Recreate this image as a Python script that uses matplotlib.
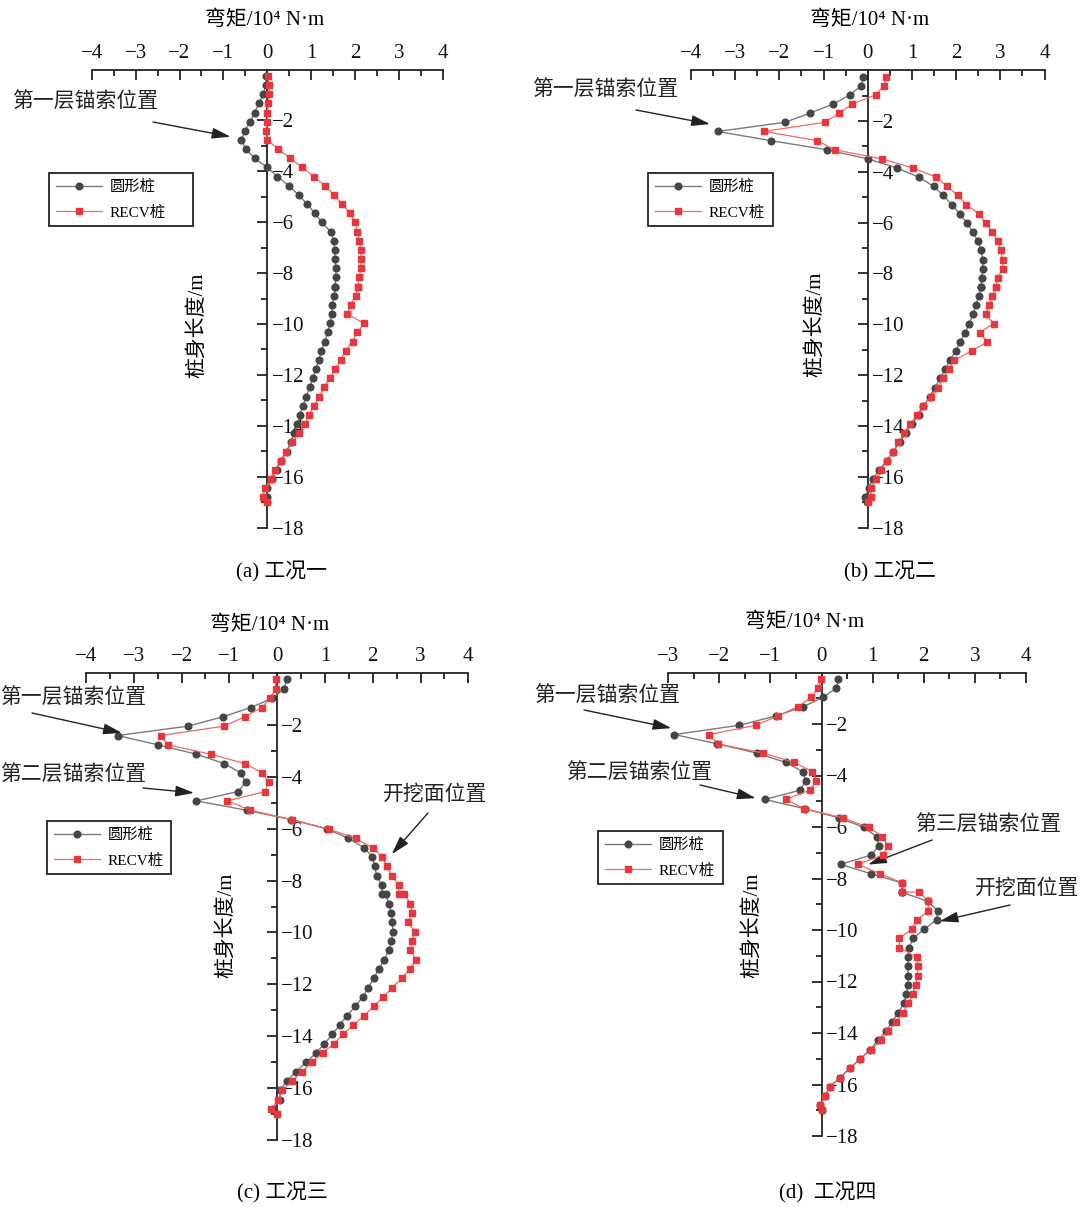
import matplotlib
matplotlib.use('Agg')
from matplotlib import pyplot as plt
from matplotlib.ticker import MultipleLocator, FixedLocator

plt.rcParams['font.family'] = ['Liberation Serif', 'Noto Sans CJK SC']
plt.rcParams['axes.unicode_minus'] = True

W, H = 1086, 1207

# pile depth of each node (m), the node at -8.53 appears twice
depth = [-0.25, -0.61, -0.97, -1.33, -1.69, -2.05, -2.41, -2.77, -3.13, -3.49,
         -3.85, -4.21, -4.57, -4.93, -5.29, -5.65, -6.01, -6.37, -6.73, -7.09,
         -7.45, -7.81, -8.17, -8.53, -8.53, -8.89, -9.25, -9.61, -9.97, -10.33,
         -10.69, -11.05, -11.41, -11.77, -12.13, -12.49, -12.85, -13.21, -13.57, -13.93,
         -14.29, -14.65, -15.01, -15.37, -15.73, -16.09, -16.45, -16.81, -17.0]

# bending moment, 10^4 N.m
a_round = [-0.02, -0.04, -0.09, -0.19, -0.29, -0.39, -0.51, -0.59, -0.49, -0.29,
           0.0, 0.23, 0.49, 0.71, 0.91, 1.08, 1.24, 1.44, 1.52, 1.53,
           1.54, 1.56, 1.56, 1.54, 1.54, 1.52, 1.48, 1.47, 1.43, 1.37,
           1.31, 1.23, 1.18, 1.10, 1.04, 0.96, 0.89, 0.81, 0.74, 0.68,
           0.61, 0.53, 0.44, 0.32, 0.21, 0.11, 0.0, -0.01, 0.0]
a_recv = [0.02, 0.04, 0.04, 0.02, 0.0, 0.0, -0.02, 0.0, 0.25, 0.52,
          0.80, 1.06, 1.31, 1.52, 1.71, 1.88, 1.99, 2.05, 2.09, 2.13,
          2.13, 2.13, 2.09, 2.07, 2.07, 2.01, 1.90, 1.82, 2.20, 2.05,
          1.94, 1.78, 1.67, 1.54, 1.42, 1.29, 1.18, 1.06, 0.95, 0.86,
          0.72, 0.57, 0.43, 0.30, 0.18, 0.08, -0.05, -0.11, 0.0]

b_round = [-0.10, -0.15, -0.40, -0.78, -1.31, -1.87, -3.40, -2.20, -0.93, 0.0,
           0.66, 1.16, 1.49, 1.71, 1.90, 2.08, 2.24, 2.38, 2.49, 2.57,
           2.60, 2.60, 2.58, 2.57, 2.57, 2.51, 2.45, 2.38, 2.30, 2.20,
           2.09, 1.99, 1.86, 1.75, 1.64, 1.52, 1.40, 1.26, 1.15, 1.00,
           0.86, 0.72, 0.57, 0.43, 0.26, 0.11, 0.02, -0.06, -0.02]
b_recv = [0.42, 0.37, 0.18, -0.35, -0.64, -0.97, -2.35, -1.14, -0.75, 0.32,
          1.03, 1.55, 1.80, 2.04, 2.23, 2.51, 2.67, 2.82, 2.94, 3.01,
          3.05, 3.06, 2.94, 2.90, 2.90, 2.82, 2.75, 2.67, 2.85, 2.53,
          2.71, 2.35, 1.96, 1.83, 1.71, 1.58, 1.43, 1.25, 1.11, 0.96,
          0.82, 0.69, 0.57, 0.43, 0.30, 0.18, 0.08, 0.07, 0.0]

c_round = [0.20, 0.14, -0.10, -0.55, -1.14, -1.87, -3.34, -2.49, -1.69, -1.11,
           -0.76, -0.66, -0.82, -1.69, -0.64, 0.29, 1.04, 1.49, 1.82, 1.99,
           2.04, 2.08, 2.19, 2.19, 2.27, 2.34, 2.39, 2.41, 2.42, 2.39,
           2.34, 2.24, 2.13, 2.02, 1.91, 1.79, 1.63, 1.46, 1.31, 1.15,
           0.99, 0.81, 0.61, 0.39, 0.20, 0.06, 0.06, -0.09, 0.0]
c_recv = [-0.03, -0.03, -0.14, -0.32, -0.68, -1.11, -2.44, -2.28, -1.39, -0.68,
          -0.31, -0.18, -0.25, -1.04, -0.56, 0.31, 1.08, 1.64, 2.00, 2.20,
          2.29, 2.40, 2.54, 2.54, 2.66, 2.79, 2.82, 2.74, 2.88, 2.82,
          2.79, 2.91, 2.77, 2.61, 2.41, 2.22, 2.02, 1.82, 1.59, 1.38,
          1.19, 0.95, 0.72, 0.52, 0.31, 0.11, 0.02, -0.12, 0.0]

d_round = [0.33, 0.29, 0.02, -0.36, -0.90, -1.61, -2.88, -2.04, -1.27, -0.70,
           -0.37, -0.31, -0.42, -1.11, -0.33, 0.35, 0.82, 1.08, 1.12, 0.97,
           0.37, 0.96, 1.57, 1.57, 1.57, 2.08, 2.27, 2.25, 2.01, 1.79,
           1.71, 1.69, 1.69, 1.69, 1.69, 1.66, 1.61, 1.50, 1.38, 1.26,
           1.10, 0.95, 0.75, 0.55, 0.36, 0.16, 0.07, -0.03, 0.0]
d_recv = [-0.01, -0.07, -0.20, -0.47, -0.86, -1.29, -2.20, -2.03, -1.14, -0.54,
          -0.18, -0.10, -0.23, -0.70, -0.34, 0.42, 0.92, 1.19, 1.29, 1.20,
          0.71, 1.14, 1.58, 1.58, 1.91, 2.09, 2.09, 1.86, 1.76, 1.52,
          1.52, 1.86, 1.88, 1.88, 1.84, 1.78, 1.70, 1.59, 1.46, 1.29,
          1.16, 0.97, 0.76, 0.56, 0.36, 0.16, 0.07, -0.03, 0.0]

series_names = ['圆形桩', 'RECV桩']
captions = ['(a) 工况一', '(b) 工况二', '(c) 工况三', '(d)  工况四']
xlabel = '弯矩/10⁴ N·m'
ylabel = '桩身长度/m'

INK = '#222222'


def fxy(x, y):
    # pixel position (from top-left) -> figure fraction
    return x / W, 1 - y / H


def make_panel(fig, left, right, top, bottom, xmin, xmax):
    ax = fig.add_axes([left / W, 1 - bottom / H, (right - left) / W, (bottom - top) / H])
    ax.patch.set_alpha(0)
    ax.set_xlim(xmin, xmax)
    ax.set_ylim(-18, 0)
    ax.spines['left'].set_visible(False)
    ax.spines['bottom'].set_visible(False)
    ax.spines['right'].set_position(('data', 0))
    for s in ['top', 'right']:
        ax.spines[s].set_linewidth(1.3)
        ax.spines[s].set_color(INK)
    ax.xaxis.tick_top()
    ax.yaxis.tick_right()
    ax.set_xticks(range(xmin, xmax + 1))
    ax.xaxis.set_minor_locator(MultipleLocator(0.5))
    ax.set_yticks(range(-18, -1, 2))
    ax.yaxis.set_minor_locator(FixedLocator(range(-17, 0, 2)))
    ax.tick_params(which='both', direction='in', width=1.3, color=INK,
                   labelsize=15, labelcolor='#111111')
    ax.tick_params(which='major', length=7)
    ax.tick_params(which='minor', length=4)
    ax.tick_params(axis='x', pad=5)
    ax.tick_params(axis='y', pad=3)
    return ax


def draw_series(ax, rnd, recv):
    ax.plot(rnd, depth, '-', color='#7a7a7a', lw=1.0, marker='o', ms=4.8,
            mfc='#454545', mec='#454545', label=series_names[0], zorder=3, clip_on=False)
    ax.plot(recv, depth, '-', color='#f06868', lw=0.9, marker='s', ms=4.4,
            mfc='#e8363c', mec='#e8363c', label=series_names[1], zorder=4, clip_on=False)


def add_legend(fig, ax, left, right, top):
    x0, y0 = fxy(left, top)
    leg = ax.legend(loc='upper left', bbox_to_anchor=(x0, y0, (right - left) / W, 0),
                    bbox_transform=fig.transFigure, mode='expand', frameon=True,
                    fancybox=False, edgecolor=INK, framealpha=1, fontsize=11,
                    handlelength=3.0, handletextpad=0.5, borderpad=0.45,
                    labelspacing=0.75, borderaxespad=0)
    leg.get_frame().set_linewidth(1.3)


def pointer(fig, ax, text, text_xy, tail_xy, tip):
    fig.text(*fxy(*text_xy), text, ha='center', va='center', fontsize=15, color='#222222')
    ax.annotate('', xy=tip, xycoords='data', xytext=fxy(*tail_xy),
                textcoords='figure fraction', annotation_clip=False,
                arrowprops=dict(arrowstyle='-|>,head_length=0.75,head_width=0.22',
                                color=INK, lw=1.0, shrinkA=0, shrinkB=0,
                                mutation_scale=15))


def main():
    fig = plt.figure(figsize=(W / 100, H / 100), dpi=100)
    fig.patch.set_facecolor('white')

    # (a)
    ax = make_panel(fig, 91.7, 443, 69.5, 527.6, -4, 4)
    draw_series(ax, a_round, a_recv)
    add_legend(fig, ax, 49, 193, 173)
    pointer(fig, ax, '第一层锚索位置', (85, 103), (153, 122), (-0.84, -2.64))
    fig.text(*fxy(265, 20), xlabel, ha='center', va='center', fontsize=15)
    fig.text(*fxy(197, 325), ylabel, ha='center', va='center', rotation=90, fontsize=15)
    fig.text(*fxy(282, 572), captions[0], ha='center', va='center', fontsize=15)

    # (b)
    ax = make_panel(fig, 691, 1044.5, 70.2, 527.6, -4, 4)
    draw_series(ax, b_round, b_recv)
    add_legend(fig, ax, 648, 773, 173)
    pointer(fig, ax, '第一层锚索位置', (605, 91), (636, 110), (-3.57, -2.12))
    fig.text(*fxy(870, 20), xlabel, ha='center', va='center', fontsize=15)
    fig.text(*fxy(815, 324), ylabel, ha='center', va='center', rotation=90, fontsize=15)
    fig.text(*fxy(890, 572), captions[1], ha='center', va='center', fontsize=15)

    # (c)
    ax = make_panel(fig, 86, 468.3, 673, 1140, -4, 4)
    draw_series(ax, c_round, c_recv)
    add_legend(fig, ax, 47, 171, 821)
    pointer(fig, ax, '第一层锚索位置', (73, 699), (32, 713), (-3.25, -2.31))
    pointer(fig, ax, '第二层锚索位置', (73, 776), (143, 788), (-1.74, -4.62))
    pointer(fig, ax, '开挖面位置', (435, 795), (428, 813), (2.40, -6.98))
    fig.text(*fxy(270, 625), xlabel, ha='center', va='center', fontsize=15)
    fig.text(*fxy(226, 925), ylabel, ha='center', va='center', rotation=90, fontsize=15)
    fig.text(*fxy(282, 1193), captions[2], ha='center', va='center', fontsize=15)

    # (d)
    ax = make_panel(fig, 668.3, 1026, 672.5, 1136, -3, 4)
    draw_series(ax, d_round, d_recv)
    add_legend(fig, ax, 598, 723, 831)
    pointer(fig, ax, '第一层锚索位置', (607, 697), (584, 710), (-2.94, -2.16))
    pointer(fig, ax, '第二层锚索位置', (639, 774), (700, 785), (-1.29, -4.88))
    pointer(fig, ax, '第三层锚索位置', (988, 826), (932, 840), (0.91, -7.46))
    pointer(fig, ax, '开挖面位置', (1027, 889), (1010, 905), (2.31, -9.66))
    fig.text(*fxy(805, 622), xlabel, ha='center', va='center', fontsize=15)
    fig.text(*fxy(752, 925), ylabel, ha='center', va='center', rotation=90, fontsize=15)
    fig.text(*fxy(828, 1193), captions[3], ha='center', va='center', fontsize=15)

    fig.savefig('out.png', dpi=100)


if __name__ == '__main__':
    main()
